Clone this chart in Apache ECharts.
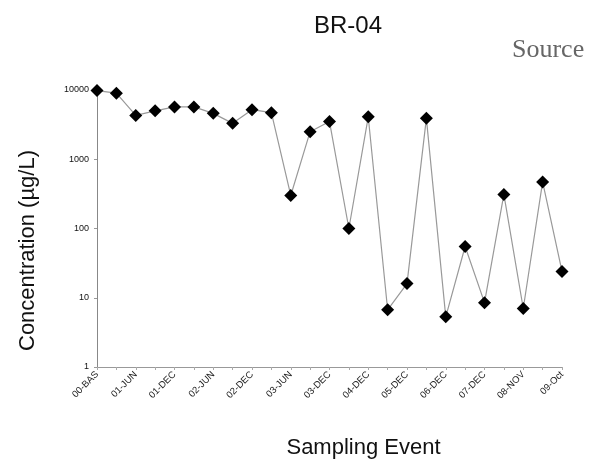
<!DOCTYPE html>
<html>
<head>
<meta charset="utf-8">
<script src="https://cdn.jsdelivr.net/npm/echarts@6/dist/echarts.min.js"></script>
<style>
html,body{margin:0;padding:0;background:#fff;}
#chart{width:604px;height:464px;}
</style>
</head>
<body>
<div id="chart"></div>
<script>
const categories = ['00-BAS','01-MAR','01-JUN','01-SEP','01-DEC','02-MAR','02-JUN','02-SEP','02-DEC','03-MAR','03-JUN','03-SEP','03-DEC','04-JUN','04-DEC','05-JUN','05-DEC','06-JUN','06-DEC','07-JUN','07-DEC','08-MAY','08-NOV','09-Apr','09-Oct'];
const concentration = [9800, 9000, 4300, 5000, 5700, 5700, 4600, 3300, 5200, 4700, 300, 2500, 3500, 100, 4100, 6.7, 16, 3900, 5.3, 55, 8.5, 310, 7, 470, 24];
const yTicks = [1, 10, 100, 1000, 10000];
const titleText = 'BR-04';
const sourceText = 'Source';
const yName = 'Concentration (\u00b5g/L)';
const xName = 'Sampling Event';

const chart = echarts.init(document.getElementById('chart'), null, {renderer: 'canvas'});
chart.setOption({
  backgroundColor: '#ffffff',
  animation: false,
  title: {
    text: titleText,
    left: 309,
    top: 9,
    textStyle: {fontFamily: 'Liberation Sans, Arial, sans-serif', fontSize: 24, fontWeight: 'normal', color: '#111'}
  },
  graphic: [{
    type: 'text',
    left: 512,
    top: 37,
    style: {text: sourceText, font: '26px "Liberation Serif", "Times New Roman", serif', fill: '#666'}
  }],
  grid: {left: 97, right: 42, top: 90, bottom: 94, containLabel: false},
  xAxis: {
    type: 'category',
    data: categories,
    boundaryGap: false,
    name: xName,
    nameLocation: 'middle',
    nameGap: 70,
    nameTextStyle: {fontFamily: 'Liberation Sans, Arial, sans-serif', fontSize: 22, color: '#111', padding: [0, 0, 0, 68]},
    axisLine: {lineStyle: {color: '#999', width: 1}},
    axisTick: {show: true, interval: 0, length: 3, lineStyle: {color: '#aaa'}},
    axisLabel: {interval: 1, rotate: 45, fontSize: 9.5, color: '#222', fontFamily: 'Liberation Sans, Arial, sans-serif', margin: 6},
    splitLine: {show: false}
  },
  yAxis: {
    type: 'log',
    logBase: 10,
    min: yTicks[0],
    max: yTicks[yTicks.length - 1],
    name: yName,
    nameLocation: 'middle',
    nameGap: 58,
    nameTextStyle: {fontFamily: 'Liberation Sans, Arial, sans-serif', fontSize: 22, color: '#111', padding: [0, 44, 0, 0]},
    axisLine: {show: true, lineStyle: {color: '#888', width: 1}},
    axisTick: {show: true, length: 3, lineStyle: {color: '#999'}},
    axisLabel: {fontSize: 9, color: '#111', fontFamily: 'Liberation Sans, Arial, sans-serif', margin: 8, formatter: function (v) { return String(Math.round(v)); }},
    splitLine: {show: false},
    minorTick: {show: false}
  },
  series: [{
    type: 'line',
    data: concentration,
    symbol: 'diamond',
    symbolSize: 13,
    showAllSymbol: true,
    itemStyle: {color: '#000'},
    lineStyle: {color: '#999', width: 1.2},
    z: 3
  }]
});
</script>
</body>
</html>
